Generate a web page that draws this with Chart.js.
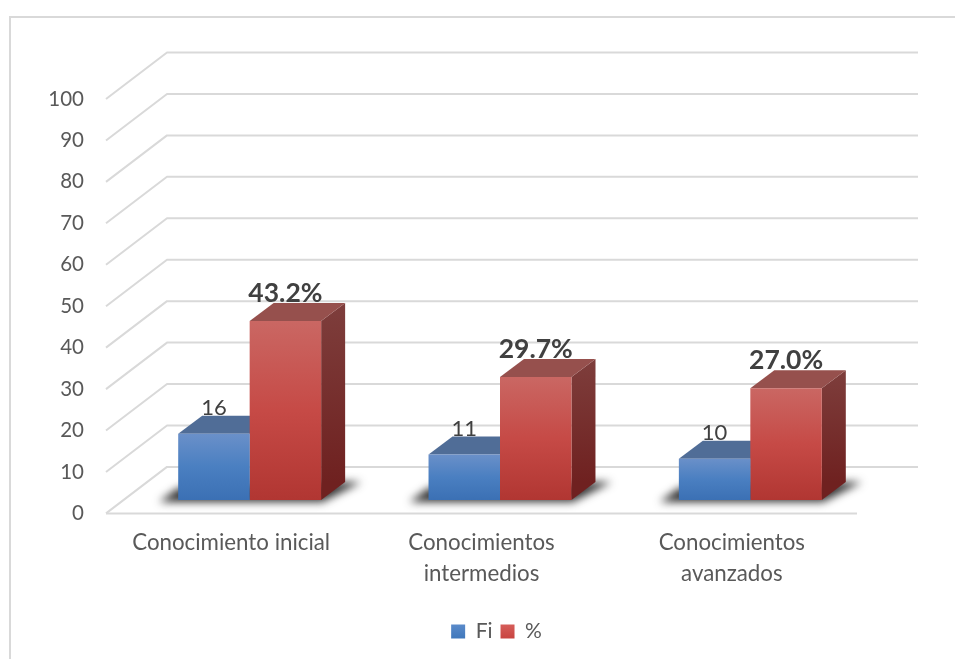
<!DOCTYPE html>
<html><head><meta charset="utf-8">
<style>html,body{margin:0;padding:0;background:#fff}canvas{display:block}</style>
<script src="https://cdn.jsdelivr.net/npm/chart.js@4"></script>
</head><body><canvas id="c" width="955" height="659"></canvas>
<script>
const categories = [["Conocimiento inicial"], ["Conocimientos", "intermedios"], ["Conocimientos", "avanzados"]];
const fiValues = [16, 11, 10];
const pctValues = [43.2, 29.7, 27.0];
const yTicks = [0, 10, 20, 30, 40, 50, 60, 70, 80, 90, 100];
const seriesNames = ["Fi", "%"];

const FONT = "Lato";
const WALL = { dx: 61, dy: -46.5 };   // depth of the chart floor
const BAR = { dx: 24, dy: -18, shiftX: 18.5, shiftY: -13.3 }; // depth and floor offset of bars

const skins = [
  { stops: ["#6a90c9", "#4a7fc1", "#3b70b4"], top: "#506d97", sideA: "#3d5f8c", sideB: "#2c4d7a", label: "400 22px " + FONT, labelGap: 18.7, fmt: v => String(v), legend: ["#5b8bca", "#3f77bb"] },
  { stops: ["#ca6763", "#c64a46", "#b13632"], top: "#96504d", sideA: "#7e3e3c", sideB: "#6f2120", label: "700 26.5px " + FONT, labelGap: 19.5, fmt: v => v.toFixed(1) + "%", legend: ["#d65e5a", "#c8433f"] }
];

function frontGradient(i) {
  return function (ctx) {
    const chart = ctx.chart, s = chart.scales && chart.scales.y;
    if (!s || ctx.parsed == null || ctx.parsed.y == null) return skins[i].stops[1];
    const g = chart.ctx.createLinearGradient(0, s.getPixelForValue(ctx.parsed.y), 0, s.getPixelForValue(0));
    skins[i].stops.forEach((c, k) => g.addColorStop(k / 2, c));
    return g;
  };
}

function drawFaces(c, meta, skin) {
  meta.data.forEach(b => {
    const l = b.x - b.width / 2 + BAR.shiftX, r = b.x + b.width / 2 + BAR.shiftX;
    const t = b.y + BAR.shiftY, u = b.base + BAR.shiftY;
    const g = c.createLinearGradient(0, t + BAR.dy, 0, u + BAR.dy);
    g.addColorStop(0, skin.sideA); g.addColorStop(1, skin.sideB);
    c.fillStyle = g;
    c.beginPath();
    c.moveTo(r, t); c.lineTo(r + BAR.dx, t + BAR.dy); c.lineTo(r + BAR.dx, u + BAR.dy); c.lineTo(r, u);
    c.closePath(); c.fill();
    c.fillStyle = skin.top;
    c.beginPath();
    c.moveTo(l, t); c.lineTo(r, t); c.lineTo(r + BAR.dx, t + BAR.dy); c.lineTo(l + BAR.dx, t + BAR.dy);
    c.closePath(); c.fill();
  });
}

const scene3d = {
  id: "scene3d",
  afterLayout(chart) {
    // centre the legend on the whole plot block
    chart.legend.left = 38;
    chart.legend.right = 955;
    chart.legend.adjustHitBoxes();
  },
  beforeDraw(chart) {
    const c = chart.ctx, a = chart.chartArea, y = chart.scales.y;
    c.save();
    c.strokeStyle = "#d9d9d9"; c.lineWidth = 2;
    c.beginPath(); c.moveTo(10, 660); c.lineTo(10, 17); c.lineTo(955, 17); c.stroke();
    c.lineWidth = 2; c.lineJoin = "round";
    yTicks.forEach(v => {
      const p = y.getPixelForValue(v);
      c.beginPath();
      c.moveTo(a.left, p);
      c.lineTo(a.left + WALL.dx, p + WALL.dy);
      c.lineTo(a.right + WALL.dx, p + WALL.dy);
      c.stroke();
    });
    const p0 = y.getPixelForValue(0);
    c.beginPath(); c.moveTo(a.left, p0); c.lineTo(a.right, p0); c.stroke();
    c.restore();
  },
  beforeDatasetsDraw(chart) {
    const c = chart.ctx;
    const m0 = chart.getDatasetMeta(0), m1 = chart.getDatasetMeta(1);
    c.save();
    c.filter = "blur(4px)";
    c.fillStyle = "rgba(30,30,30,0.9)";
    m0.data.forEach((b0, i) => {
      const b1 = m1.data[i];
      const x0 = b0.x - b0.width / 2 + BAR.shiftX, x1 = b1.x + b1.width / 2 + BAR.shiftX;
      const base = b0.base + BAR.shiftY;
      c.beginPath();
      c.moveTo(x0 - 19, base + 2);
      c.lineTo(x1 + 1, base + 2);
      c.lineTo(x1 + BAR.dx + 16, base + BAR.dy);
      c.lineTo(x1 + BAR.dx, base + BAR.dy);
      c.lineTo(x0, base - 12);
      c.closePath();
      c.fill();
    });
    c.restore();
    // blue faces go first, so the red front face covers them
    drawFaces(c, m0, skins[0]);
  },
  beforeDatasetDraw(chart, args) {
    const c = chart.ctx;
    if (args.index === 1) drawFaces(c, args.meta, skins[1]);
    c.save();
    c.translate(BAR.shiftX, BAR.shiftY);
  },
  afterDatasetDraw(chart) { chart.ctx.restore(); },
  afterDatasetsDraw(chart) {
    const c = chart.ctx;
    c.save();
    c.textAlign = "center"; c.textBaseline = "alphabetic"; c.fillStyle = "#404040";
    chart.data.datasets.forEach((ds, i) => {
      const skin = skins[i];
      c.font = skin.label;
      chart.getDatasetMeta(i).data.forEach((b, j) => {
        c.fillText(skin.fmt(ds.data[j]), b.x + BAR.shiftX, b.y + BAR.shiftY - skin.labelGap);
      });
    });
    c.restore();
  }
};

const canvas = document.getElementById("c");
new Chart(canvas, {
  type: "bar",
  data: {
    labels: categories,
    datasets: [
      { label: seriesNames[0], data: fiValues, backgroundColor: frontGradient(0), clip: false },
      { label: seriesNames[1], data: pctValues, backgroundColor: frontGradient(1), clip: false }
    ]
  },
  plugins: [scene3d],
  options: {
    responsive: false,
    animation: false,
    events: [],
    layout: { padding: { left: 0, right: 98, top: 99, bottom: 7 } },
    datasets: { bar: { categoryPercentage: 0.571, barPercentage: 1, borderWidth: 0 } },
    scales: {
      x: {
        grid: { display: false, drawTicks: false },
        border: { display: false },
        afterFit(s) { s.height = 99.6; },
        ticks: { autoSkip: false, maxRotation: 0, minRotation: 0, padding: 14, color: "#595959", font: { family: FONT, size: 22.3, lineHeight: 1.38 } }
      },
      y: {
        min: 0, max: 100,
        grid: { display: false, drawTicks: false },
        border: { display: false },
        afterFit(s) { s.width = 106; },
        afterBuildTicks(s) { s.ticks = yTicks.map(v => ({ value: v })); },
        ticks: { padding: 22, color: "#595959", font: { family: FONT, size: 20.5 } }
      }
    },
    plugins: {
      tooltip: { enabled: false },
      legend: {
        position: "bottom",
        labels: {
          boxWidth: 14, boxHeight: 14, padding: 8,
          color: "#595959", font: { family: FONT, size: 21 },
          generateLabels(chart) {
            return seriesNames.map((n, i) => {
              const g = chart.ctx.createLinearGradient(0, 624, 0, 639);
              g.addColorStop(0, skins[i].legend[0]); g.addColorStop(1, skins[i].legend[1]);
              return { text: n, fillStyle: g, strokeStyle: g, lineWidth: 0, datasetIndex: i, fontColor: "#595959" };
            });
          }
        }
      }
    }
  }
});
</script></body></html>
